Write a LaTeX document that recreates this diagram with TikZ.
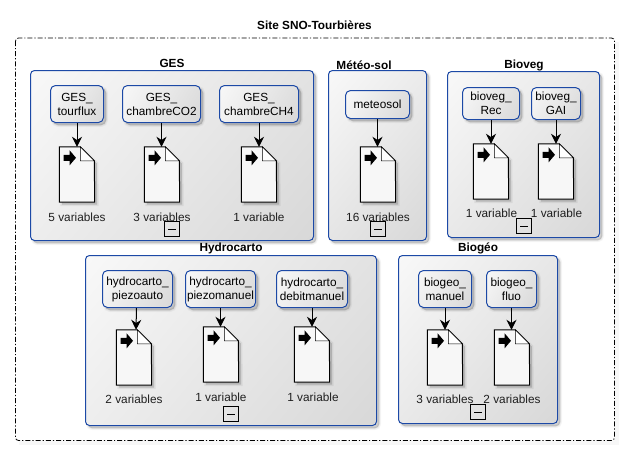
\documentclass[tikz,border=0pt]{standalone}
\usepackage{fontspec}
\setmainfont{Liberation Sans}
\usetikzlibrary{arrows.meta}
\definecolor{bluebd}{HTML}{1C49A6}
\pgfdeclarehorizontalshading{greyfade}{100bp}{color(0bp)=(white!100!black); color(100bp)=(white!82!black)}
\tikzset{
  x=1pt,y=-1pt,
  softshadow/.style={
    preaction={draw=black,draw opacity=.04,fill=black,fill opacity=.04,line width=4pt,transform canvas={xshift=2.5pt,yshift=-2.5pt}},
    preaction={draw=black,draw opacity=.05,fill=black,fill opacity=.05,line width=2pt,transform canvas={xshift=2.5pt,yshift=-2.5pt}},
    preaction={draw=black,draw opacity=.07,fill=black,fill opacity=.07,line width=.5pt,transform canvas={xshift=2.5pt,yshift=-2.5pt}}},
  groupbox/.style={softshadow,draw=bluebd,line width=1pt,rounded corners=4pt,inner sep=0pt,
    shading=greyfade,shading angle=-40},
  procbox/.style={softshadow,draw=bluebd,line width=1pt,rounded corners=5pt,inner sep=0pt,align=center,
    shading=greyfade,shading angle=-30,
    font=\fontsize{11.8pt}{14pt}\selectfont},
  docbox/.style={inner sep=0pt,minimum width=35pt,minimum height=55pt},
  docline/.style={draw=black,line width=1pt,fill=white!97!black,line join=miter},
  foldline/.style={draw=black,line width=.6pt,fill=white},
  docicon/.style={fill=black},
  flow/.style={draw=black,line width=1pt,-{Stealth[length=10pt,width=10pt,inset=3.2pt]}},
  titletext/.style={font=\fontsize{11.8pt}{14pt}\selectfont\bfseries,inner sep=0pt},
  vartext/.style={font=\fontsize{11.8pt}{14pt}\selectfont,text=black!88,inner sep=0pt},
  minusbox/.style={draw=black,line width=.9pt,minimum width=15pt,minimum height=15pt,inner sep=0pt},
  outerbox/.style={draw=black,line width=.8pt,rounded corners=3pt,dash pattern=on 5pt off 2pt on 1.2pt off 2pt,fill=white},
}
% {name}{x1}{x2}{y1}{y2}
\newcommand\GroupAt[5]{%
  \pgfmathsetmacro\mycx{(#2+#3)/2}\pgfmathsetmacro\mycy{(#4+#5)/2}%
  \pgfmathsetmacro\myw{#3-#2}\pgfmathsetmacro\myh{#5-#4}%
  \node[groupbox,minimum width=\myw pt,minimum height=\myh pt] (#1) at (\mycx,\mycy) {};}
\newcommand\ProcAt[6]{%
  \pgfmathsetmacro\mycx{(#2+#3)/2}\pgfmathsetmacro\mycy{(#4+#5)/2}%
  \pgfmathsetmacro\myw{#3-#2}\pgfmathsetmacro\myh{#5-#4}%
  \node[procbox,minimum width=\myw pt,minimum height=\myh pt] (#1) at (\mycx,\mycy) {#6};}
% {name}{left x}{top y}
\newcommand\DocAt[3]{%
  \pgfmathsetmacro\mycx{#2+17.5}\pgfmathsetmacro\mycy{#3+27.5}%
  \node[docbox] (#1) at (\mycx,\mycy) {};
  \path[docline,preaction={fill=black,fill opacity=.06,draw=black,draw opacity=.06,line width=3pt,transform canvas={xshift=2.5pt,yshift=-2.5pt}},
        preaction={fill=black,fill opacity=.1,transform canvas={xshift=2.5pt,yshift=-2.5pt}}]
    (#1.north west) -- ++(21,0) -- ++(14,14) -- (#1.south east) -- (#1.south west) -- cycle;
  \path[foldline] (#1.north west) ++(21,0) -- ++(0,14) -- ++(14,0) -- cycle;
  \path[docicon] (#1.north west) ++(4.3,8) -- ++(6,0) -- ++(0,-4.5) -- ++(6.4,7.5) -- ++(-6.4,7.5) -- ++(0,-4.5) -- ++(-6,0) -- cycle;}
\newcommand\MinusAt[3]{%
  \node[minusbox] (#1) at (#2,#3) {};
  \draw[line width=.8pt] ([xshift=-4pt]#1.center) -- ([xshift=4pt]#1.center);}
\begin{document}
\begin{tikzpicture}
\useasboundingbox (0,0) rectangle (630,456);
% outer container
\fill[black!3] (19,42) rectangle (619,445);
\path[outerbox] (15.5,38) rectangle (614.5,440.5);
\node[titletext] (tsite) at (314.5,25) {Site SNO-Tourbières};

% groups
\GroupAt{ges}{30.5}{313.5}{70.5}{240.5}
\GroupAt{met}{328.5}{426.5}{70.5}{240.5}
\GroupAt{bio}{447.5}{599.5}{71.5}{237.5}
\GroupAt{hyd}{85.5}{376.5}{255.5}{425.5}
\GroupAt{bgo}{398.5}{557.5}{255.5}{423.5}
\node[titletext] (tges) at (172,63) {GES};
\node[titletext] (tmet) at (364,65) {Météo-sol};
\node[titletext] (tbio) at (524,65) {Bioveg};
\node[titletext] (thyd) at (231,248) {Hydrocarto};
\node[titletext] (tbgo) at (478,248) {Biogéo};

% process boxes
\ProcAt{p1}{50.5}{103.5}{85.5}{122.5}{GES\_\\tourflux}
\ProcAt{p2}{122.5}{200.5}{85.5}{122.5}{GES\_\\chambreCO2}
\ProcAt{p3}{219.5}{298.5}{85.5}{122.5}{GES\_\\chambreCH4}
\ProcAt{p4}{345.5}{409.5}{90.5}{118.5}{meteosol}
\ProcAt{p5}{462.5}{519.5}{87.5}{119.5}{bioveg\_\\Rec}
\ProcAt{p6}{531.5}{580.5}{87.5}{119.5}{bioveg\_\\GAI}
\ProcAt{p7}{102.5}{172.5}{270.5}{307.5}{hydrocarto\_\\piezoauto}
\ProcAt{p8}{185.5}{255.5}{270.5}{307.5}{hydrocarto\_\\piezomanuel}
\ProcAt{p9}{276.5}{347.5}{270.5}{307.5}{hydrocarto\_\\debitmanuel}
\ProcAt{p10}{418.5}{471.5}{270.5}{307.5}{biogeo\_\\manuel}
\ProcAt{p11}{486.5}{536.5}{270.5}{307.5}{biogeo\_\\fluo}

% documents
\DocAt{d1}{59.5}{147}
\DocAt{d2}{144.5}{147}
\DocAt{d3}{241.5}{147}
\DocAt{d4}{360.5}{147}
\DocAt{d5}{473.5}{144}
\DocAt{d6}{538.5}{144}
\DocAt{d7}{116.5}{330}
\DocAt{d8}{203.5}{327}
\DocAt{d9}{294.5}{327}
\DocAt{d10}{427.5}{330}
\DocAt{d11}{494.5}{330}

% connectors
\foreach \n in {1,2,3,4,5,6,8,9,10,11}{
  \draw[flow] (p\n.south) -- (p\n.south |- d\n.north);
}
\draw[flow] ([xshift=-1pt]p7.south) -- ([xshift=2pt]d7.north);

% labels
\node[vartext] (l1) at (77,217) {5 variables};
\node[vartext] (l2) at (162,217) {3 variables};
\node[vartext] (l3) at (259,217) {1 variable};
\node[vartext] (l4) at (378,217) {16 variables};
\node[vartext] (l5) at (491.5,213) {1 variable};
\node[vartext] (l6) at (556.5,213) {1 variable};
\node[vartext] (l7) at (134,399) {2 variables};
\node[vartext] (l8) at (221,397) {1 variable};
\node[vartext] (l9) at (313,397) {1 variable};
\node[vartext] (l10) at (445,399) {3 variables};
\node[vartext] (l11) at (512,399) {2 variables};

% collapse markers
\MinusAt{m1}{172}{229}
\MinusAt{m2}{378}{229}
\MinusAt{m3}{524}{226}
\MinusAt{m4}{231}{414}
\MinusAt{m5}{478}{412}
\end{tikzpicture}
\end{document}
